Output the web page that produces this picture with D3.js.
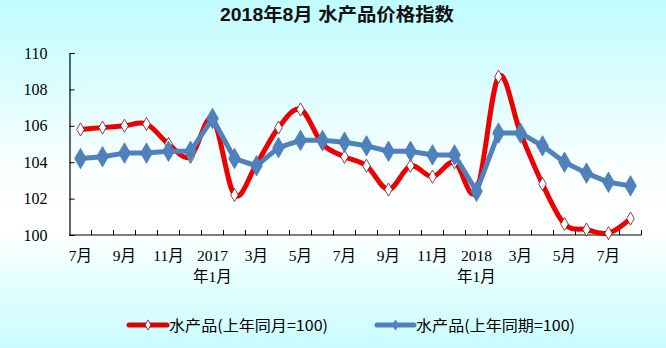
<!DOCTYPE html>
<html>
<head>
<meta charset="utf-8">
<script src="https://cdn.jsdelivr.net/npm/d3@7"></script>
<style>
  html, body { margin: 0; padding: 0; }
  body { width: 666px; height: 348px; overflow: hidden; }
  svg { display: block; }
</style>
</head>
<body>
<svg id="chart" width="666" height="348"></svg>
<script>
// Months from 2016-07 to 2018-08
const months = ["2016-07","2016-08","2016-09","2016-10","2016-11","2016-12",
  "2017-01","2017-02","2017-03","2017-04","2017-05","2017-06","2017-07","2017-08",
  "2017-09","2017-10","2017-11","2017-12","2018-01","2018-02","2018-03","2018-04",
  "2018-05","2018-06","2018-07","2018-08"];

// Year-on-year index (same month last year = 100)
const yoyMonth = [105.8,105.9,106.0,106.1,105.0,104.3,106.4,102.2,103.9,105.9,106.9,105.0,
  104.3,103.8,102.5,103.8,103.2,104.0,102.4,108.7,105.6,102.8,100.6,100.3,100.1,100.9];

// Cumulative index (same period last year = 100)
const yoyPeriod = [104.2,104.3,104.5,104.5,104.6,104.6,106.4,104.2,103.8,104.8,105.2,105.2,
  105.1,104.9,104.6,104.6,104.4,104.4,102.4,105.6,105.6,104.9,104.0,103.4,102.9,102.7];

// Axis labels (first line / second line), shown on every other month
const tickLabels = {
  "2016-07": ["7月"], "2016-09": ["9月"], "2016-11": ["11月"],
  "2017-01": ["2017", "年1月"], "2017-03": ["3月"], "2017-05": ["5月"],
  "2017-07": ["7月"], "2017-09": ["9月"], "2017-11": ["11月"],
  "2018-01": ["2018", "年1月"], "2018-03": ["3月"], "2018-05": ["5月"],
  "2018-07": ["7月"]
};
const yTicks = [100, 102, 104, 106, 108, 110];

const seriesNames = ["水产品(上年同月=100)", "水产品(上年同期=100)"];
const titleText = "2018年8月 水产品价格指数";

const W = 666, H = 348;
const svg = d3.select("#chart");

// Background: cyan at top and bottom, white through the middle
const defs = svg.append("defs");
const grad = defs.append("linearGradient").attr("id", "bg")
  .attr("x1", 0).attr("y1", 0).attr("x2", 0).attr("y2", 1);
[[0, "#c0fcff"], [0.25, "#dcfdff"], [0.5, "#fbffff"], [0.66, "#ffffff"],
 [0.8, "#e6feff"], [1, "#cafcff"]].forEach(([o, c]) =>
  grad.append("stop").attr("offset", o).attr("stop-color", c));
svg.append("rect").attr("width", W).attr("height", H).attr("fill", "url(#bg)");

const margin = { left: 69.5, right: 24.5, top: 53, bottom: 113 };
const x = d3.scaleBand().domain(months).range([margin.left, W - margin.right]);
const y = d3.scaleLinear().domain([100, 110]).range([H - margin.bottom, margin.top]);
const cx = d => x(d) + x.bandwidth() / 2;

const cjk = "'Liberation Serif', 'Noto Sans CJK SC', serif";
const sans = "'Noto Sans CJK SC', 'Liberation Sans', sans-serif";

// Title
svg.append("text").attr("x", 337).attr("y", 21).attr("text-anchor", "middle")
  .attr("font-family", "'Liberation Sans', 'Noto Sans CJK SC', sans-serif")
  .attr("font-weight", "bold").attr("font-size", 18).attr("fill", "#111")
  .attr("textLength", 234).attr("lengthAdjust", "spacingAndGlyphs")
  .text(titleText);

// Y axis
const yAxis = d3.axisLeft(y).tickValues(yTicks).tickSize(-5).tickPadding(22);
const gy = svg.append("g").attr("transform", `translate(${margin.left},0)`).call(yAxis);
gy.select(".domain").attr("stroke", "#000").attr("stroke-width", 1.2);
gy.selectAll(".tick line").attr("stroke", "#000");
gy.selectAll(".tick text").attr("font-family", cjk).attr("font-size", 16).attr("fill", "#000");

// X axis: ticks on band boundaries, pointing up into the plot
const xBase = y(100);
const gx = svg.append("g");
gx.append("line").attr("x1", margin.left).attr("x2", W - margin.right)
  .attr("y1", xBase).attr("y2", xBase).attr("stroke", "#000").attr("stroke-width", 1.2);
months.forEach(m => {
  const bx = x(m) + x.bandwidth();
  gx.append("line").attr("x1", bx).attr("x2", bx)
    .attr("y1", xBase).attr("y2", xBase - 5).attr("stroke", "#000");
});
months.forEach(m => {
  const lab = tickLabels[m];
  if (!lab) return;
  lab.forEach((t, j) => {
    gx.append("text").attr("x", cx(m)).attr("y", xBase + 26 + j * 21)
      .attr("text-anchor", "middle").attr("font-family", cjk)
      .attr("font-size", 15.5).attr("fill", "#000").text(t);
  });
});

// Red smoothed line
const redLine = d3.line().x((d, i) => cx(months[i])).y(d => y(d))
  .curve(d3.curveCardinal.tension(0));
svg.append("path").datum(yoyMonth).attr("d", redLine)
  .attr("fill", "none").attr("stroke", "#ee0000").attr("stroke-width", 5)
  .attr("stroke-linejoin", "round").attr("stroke-linecap", "round");

// Red series markers: white diamonds
const diamond = d3.symbol().type(d3.symbolDiamond);
svg.append("g").selectAll("path").data(yoyMonth).join("path")
  .attr("transform", (d, i) => `translate(${cx(months[i])},${y(d)})`)
  .attr("d", diamond.size(50)())
  .attr("fill", "#ffffff").attr("stroke", "#7a1010").attr("stroke-width", 0.8);

// Blue straight line
const blueLine = d3.line().x((d, i) => cx(months[i])).y(d => y(d));
svg.append("path").datum(yoyPeriod).attr("d", blueLine)
  .attr("fill", "none").attr("stroke", "#4f81bd").attr("stroke-width", 5)
  .attr("stroke-linejoin", "round");

// Blue series markers
svg.append("g").selectAll("path").data(yoyPeriod).join("path")
  .attr("transform", (d, i) => `translate(${cx(months[i])},${y(d)})`)
  .attr("d", diamond.size(120)())
  .attr("fill", "#4f81bd").attr("stroke", "#4a7ab5").attr("stroke-width", 0.8);

// Legend
const legend = svg.append("g");
const legendItems = [
  { x0: 129, x1: 167, color: "#dd0000", fill: "#fff", stroke: "#7a1010", size: 30, name: seriesNames[0] },
  { x0: 377, x1: 414, color: "#4f81bd", fill: "#4f81bd", stroke: "#4f81bd", size: 30, name: seriesNames[1] }
];
const ly = 325;
legendItems.forEach(it => {
  legend.append("line").attr("x1", it.x0).attr("x2", it.x1).attr("y1", ly).attr("y2", ly)
    .attr("stroke", it.color).attr("stroke-width", 5).attr("stroke-linecap", "round");
  legend.append("path").attr("transform", `translate(${(it.x0 + it.x1) / 2},${ly})`)
    .attr("d", diamond.size(it.size)()).attr("fill", it.fill)
    .attr("stroke", it.stroke).attr("stroke-width", 0.8);
  legend.append("text").attr("x", it.x1 + 2).attr("y", ly + 5.5)
    .attr("font-family", sans).attr("font-size", 15).attr("fill", "#000")
    .attr("textLength", 159).attr("lengthAdjust", "spacingAndGlyphs")
    .text(it.name);
});
</script>
</body>
</html>
